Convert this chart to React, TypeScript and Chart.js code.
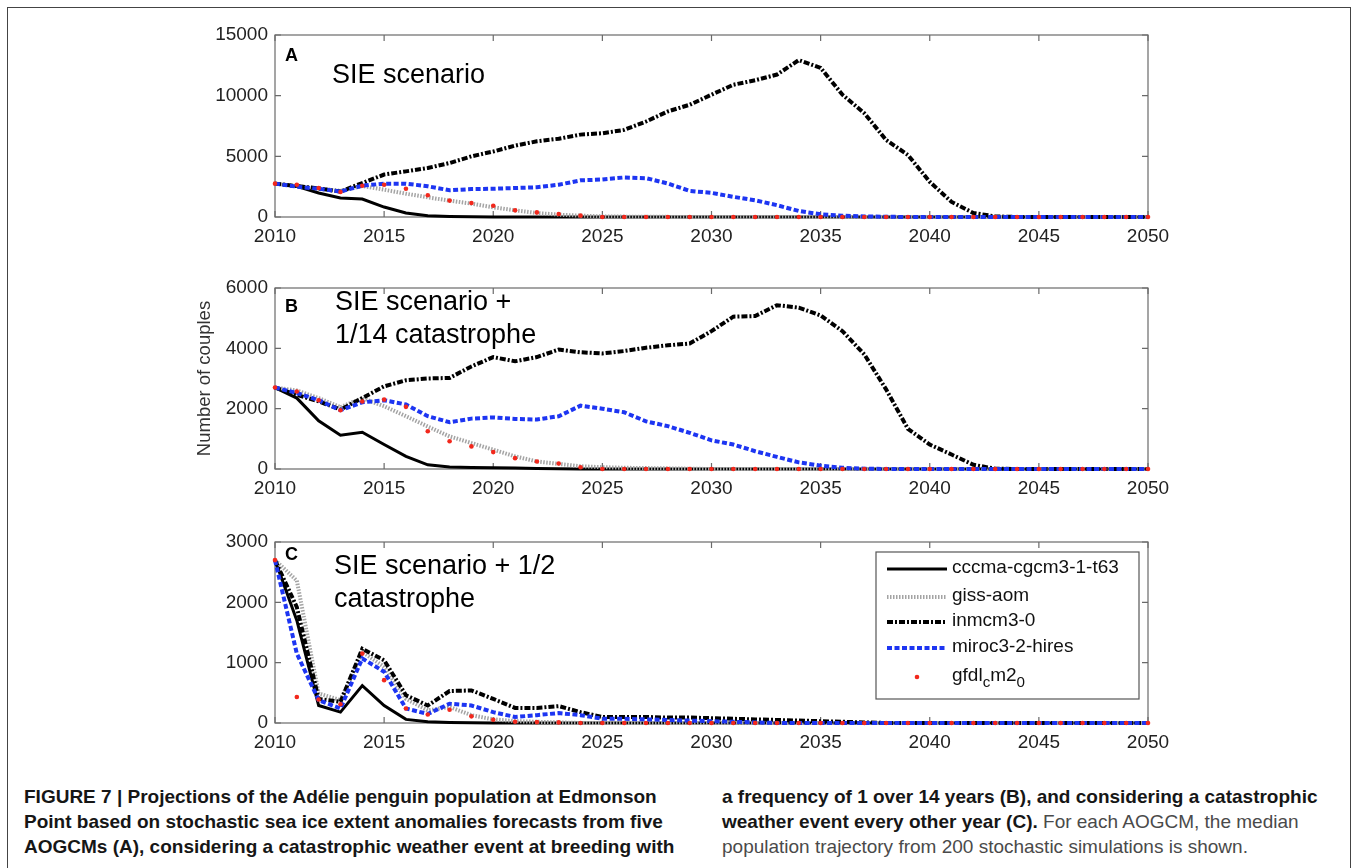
import React, { useEffect, useRef } from "react";
import { Chart, registerables } from "chart.js";

Chart.register(...registerables);

const FONT = "'Liberation Sans', Arial, Helvetica, sans-serif";

// ---------- data ----------
const years = [
  2010, 2011, 2012, 2013, 2014, 2015, 2016, 2017, 2018, 2019,
  2020, 2021, 2022, 2023, 2024, 2025, 2026, 2027, 2028, 2029,
  2030, 2031, 2032, 2033, 2034, 2035, 2036, 2037, 2038, 2039,
  2040, 2041, 2042, 2043, 2044, 2045, 2046, 2047, 2048, 2049, 2050,
];

const seriesNames = ["cccma-cgcm3-1-t63", "giss-aom", "inmcm3-0", "miroc3-2-hires", "gfdl_cm2_0"];

// Panel A: SIE scenario
const aCccma = [2750, 2530, 1980, 1570, 1480, 820, 330, 110, 50, 20, 10, 5, 0, 0, 0, 0, 0, 0, 0, 0, 0, 0, 0, 0, 0, 0, 0, 0, 0, 0, 0, 0, 0, 0, 0, 0, 0, 0, 0, 0, 0];
const aGiss = [2750, 2550, 2350, 2150, 2550, 2250, 1920, 1620, 1350, 1100, 800, 550, 330, 190, 110, 50, 30, 20, 10, 10, 0, 0, 0, 0, 0, 0, 0, 0, 0, 0, 0, 0, 0, 0, 0, 0, 0, 0, 0, 0, 0];
const aInmcm = [2750, 2550, 2350, 2100, 2800, 3500, 3760, 4040, 4450, 5000, 5400, 5880, 6240, 6450, 6790, 6900, 7180, 7870, 8700, 9250, 10080, 10900, 11270, 11740, 12930, 12290, 10080, 8560, 6350, 5110, 2900, 1240, 330, 50, 0, 0, 0, 0, 0, 0, 0];
const aMiroc = [2750, 2500, 2330, 2100, 2580, 2750, 2750, 2530, 2200, 2300, 2330, 2390, 2450, 2660, 3020, 3090, 3260, 3200, 2760, 2150, 1990, 1660, 1380, 970, 500, 220, 110, 50, 20, 0, 0, 0, 0, 0, 0, 0, 0, 0, 0, 0, 0];
const aGfdl = [2750, 2660, 2390, 2060, 2580, 2660, 2330, 1790, 1350, 1150, 930, 550, 380, 250, 110, 0, 0, 0, 0, 0, 0, 0, 0, 0, 0, 0, 0, 0, 0, 0, 0, 0, 0, 0, 0, 0, 0, 0, 0, 0, 0];

// Panel B: SIE scenario + 1/14 catastrophe
const bCccma = [2700, 2350, 1600, 1120, 1220, 810, 420, 140, 70, 50, 40, 30, 20, 10, 0, 0, 0, 0, 0, 0, 0, 0, 0, 0, 0, 0, 0, 0, 0, 0, 0, 0, 0, 0, 0, 0, 0, 0, 0, 0, 0];
const bGiss = [2700, 2600, 2350, 2050, 2350, 2080, 1750, 1410, 1080, 860, 640, 420, 250, 170, 90, 60, 40, 30, 20, 10, 0, 0, 0, 0, 0, 0, 0, 0, 0, 0, 0, 0, 0, 0, 0, 0, 0, 0, 0, 0, 0];
const bInmcm = [2700, 2460, 2240, 1970, 2350, 2740, 2940, 3000, 3020, 3400, 3710, 3570, 3710, 3960, 3870, 3830, 3910, 4020, 4100, 4160, 4570, 5050, 5070, 5430, 5350, 5090, 4570, 3800, 2640, 1330, 810, 480, 140, 10, 0, 0, 0, 0, 0, 0, 0];
const bMiroc = [2700, 2520, 2280, 1950, 2210, 2280, 2140, 1750, 1550, 1670, 1710, 1660, 1640, 1750, 2100, 2000, 1880, 1580, 1420, 1200, 950, 810, 590, 400, 220, 110, 40, 10, 0, 0, 0, 0, 0, 0, 0, 0, 0, 0, 0, 0, 0];
const bGfdl = [2700, 2570, 2280, 1950, 2240, 2300, 2060, 1250, 920, 750, 560, 360, 250, 180, 60, 0, 0, 0, 0, 0, 0, 0, 0, 0, 0, 0, 0, 0, 0, 0, 0, 0, 0, 0, 0, 0, 0, 0, 0, 0, 0];

// Panel C: SIE scenario + 1/2 catastrophe
const cCccma = [2700, 1700, 290, 180, 620, 290, 60, 20, 10, 5, 0, 0, 0, 0, 0, 0, 0, 0, 0, 0, 0, 0, 0, 0, 0, 0, 0, 0, 0, 0, 0, 0, 0, 0, 0, 0, 0, 0, 0, 0, 0];
const cGiss = [2700, 2360, 490, 380, 1180, 930, 400, 210, 265, 130, 60, 30, 20, 10, 0, 0, 0, 0, 0, 0, 0, 0, 0, 0, 0, 0, 0, 0, 0, 0, 0, 0, 0, 0, 0, 0, 0, 0, 0, 0, 0];
const cInmcm = [2700, 1920, 400, 350, 1230, 1040, 460, 290, 530, 540, 400, 250, 250, 280, 180, 100, 100, 100, 90, 90, 80, 70, 60, 50, 40, 30, 20, 10, 0, 0, 0, 0, 0, 0, 0, 0, 0, 0, 0, 0, 0];
const cMiroc = [2700, 1150, 380, 240, 1070, 850, 240, 150, 320, 290, 180, 100, 130, 165, 130, 70, 70, 60, 50, 40, 30, 20, 10, 0, 0, 0, 0, 0, 0, 0, 0, 0, 0, 0, 0, 0, 0, 0, 0, 0, 0];
const cGfdl = [2700, 430, 390, 310, 1150, 710, 240, 140, 220, 110, 55, 20, 15, 10, 0, 0, 0, 0, 0, 0, 0, 0, 0, 0, 0, 0, 0, 0, 0, 0, 0, 0, 0, 0, 0, 0, 0, 0, 0, 0, 0];

const xTicks = { min: 2010, max: 2050, step: 5 };

// ---------- styles ----------
const LINE_STYLES = [
  { color: "#000000", width: 3, dash: [] as number[], order: 4 },
  { color: "#a4a4a4", width: 4, dash: [1.5, 1.5], order: 3 },
  { color: "#000000", width: 4, dash: [6, 2, 2, 2], order: 2 },
  { color: "#1d35f2", width: 4, dash: [5, 2.5], order: 1 },
];
const DOT_COLOR = "#f2281c";

function makeDatasets(series: number[][]) {
  return series.map((vals, i) => {
    const pts = years.map((yr, k) => ({ x: yr, y: vals[k] }));
    if (i < 4) {
      const s = LINE_STYLES[i];
      return {
        label: seriesNames[i],
        data: pts,
        borderColor: s.color,
        backgroundColor: s.color,
        borderWidth: s.width,
        borderDash: s.dash,
        borderCapStyle: "butt",
        pointRadius: 0,
        tension: 0,
        order: s.order,
        clip: 8,
      };
    }
    return {
      label: seriesNames[i],
      data: pts,
      showLine: false,
      pointRadius: 2.3,
      pointBorderWidth: 0,
      pointBackgroundColor: DOT_COLOR,
      borderColor: DOT_COLOR,
      order: 0,
      clip: 8,
    };
  });
}

// ---------- plugins ----------
const boxPlugin = {
  id: "mbox",
  beforeDatasetsDraw(chart: any) {
    const { ctx, chartArea, scales } = chart;
    const { left, right, top, bottom } = chartArea;
    ctx.save();
    ctx.strokeStyle = "#6a6a6a";
    ctx.lineWidth = 1.2;
    ctx.strokeRect(left, top, right - left, bottom - top);
    const L = 6;
    ctx.beginPath();
    scales.x.ticks.forEach((t: any) => {
      const px = scales.x.getPixelForValue(t.value);
      ctx.moveTo(px, bottom);
      ctx.lineTo(px, bottom - L);
      ctx.moveTo(px, top);
      ctx.lineTo(px, top + L);
    });
    scales.y.ticks.forEach((t: any) => {
      const py = scales.y.getPixelForValue(t.value);
      ctx.moveTo(left, py);
      ctx.lineTo(left + L, py);
      ctx.moveTo(right, py);
      ctx.lineTo(right - L, py);
    });
    ctx.stroke();
    ctx.restore();
  },
};

function drawSubLabel(ctx: CanvasRenderingContext2D, text: string, x: number, y: number, size: number) {
  // "_" marks a one-character subscript
  let cx = x;
  let i = 0;
  while (i < text.length) {
    if (text[i] === "_" && i + 1 < text.length) {
      ctx.font = `${size * 0.8}px ${FONT}`;
      ctx.fillText(text[i + 1], cx, y + size * 0.38);
      cx += ctx.measureText(text[i + 1]).width;
      i += 2;
    } else {
      let j = i;
      while (j < text.length && text[j] !== "_") j++;
      const part = text.slice(i, j);
      ctx.font = `${size}px ${FONT}`;
      ctx.fillText(part, cx, y);
      cx += ctx.measureText(part).width;
      i = j;
    }
  }
}

const legendPlugin = {
  id: "mlegend",
  afterDatasetsDraw(chart: any, _args: any, opts: any) {
    if (!opts || !opts.show) return;
    const { ctx, chartArea } = chart;
    const bw = 263, bh = 147;
    const bx = chartArea.right - 9 - bw;
    const by = chartArea.top + 10;
    ctx.save();
    ctx.fillStyle = "#ffffff";
    ctx.fillRect(bx, by, bw, bh);
    ctx.strokeStyle = "#555555";
    ctx.lineWidth = 1.2;
    ctx.strokeRect(bx, by, bw, bh);
    const rows = [17, 45, 70, 96, 125];
    chart.data.datasets.forEach((ds: any, i: number) => {
      const yy = by + rows[i];
      if (ds.showLine === false) {
        ctx.fillStyle = ds.pointBackgroundColor;
        ctx.beginPath();
        ctx.arc(bx + 41, yy, 2.3, 0, Math.PI * 2);
        ctx.fill();
      } else {
        ctx.setLineDash(ds.borderDash || []);
        ctx.lineWidth = ds.borderWidth;
        ctx.strokeStyle = ds.borderColor;
        ctx.beginPath();
        ctx.moveTo(bx + 11, yy);
        ctx.lineTo(bx + 71, yy);
        ctx.stroke();
        ctx.setLineDash([]);
      }
      ctx.fillStyle = "#111111";
      ctx.textBaseline = "middle";
      ctx.textAlign = "left";
      drawSubLabel(ctx, ds.label, bx + 76, yy - 1, 19);
    });
    ctx.restore();
  },
};

const textPlugin = {
  id: "mtext",
  afterDraw(chart: any, _args: any, opts: any) {
    if (!opts) return;
    const { ctx, chartArea } = chart;
    const { left, top, bottom } = chartArea;
    ctx.save();
    ctx.fillStyle = "#000";
    ctx.textBaseline = "middle";
    ctx.textAlign = "left";
    ctx.font = `bold 18px ${FONT}`;
    ctx.fillText(opts.letter, left + 10, top + opts.letterDy);
    ctx.font = `27px ${FONT}`;
    opts.lines.forEach((ln: string, i: number) => {
      ctx.fillText(ln, left + opts.textDx, top + opts.textDy + i * 33);
    });
    if (opts.yTitle) {
      ctx.translate(left - 70, (top + bottom) / 2);
      ctx.rotate(-Math.PI / 2);
      ctx.textAlign = "center";
      ctx.fillStyle = "#333";
      ctx.font = `18.5px ${FONT}`;
      ctx.fillText(opts.yTitle, 0, 0);
    }
    ctx.restore();
  },
};

// ---------- panel ----------
type PanelProps = {
  top: number;
  height: number;
  yMax: number;
  yStep: number;
  series: number[][];
  text: any;
  legend?: boolean;
};

function Panel({ top, height, yMax, yStep, series, text, legend }: PanelProps) {
  const ref = useRef<HTMLCanvasElement>(null);
  useEffect(() => {
    const tickFont = { family: FONT, size: 19 };
    const chart = new Chart(ref.current as HTMLCanvasElement, {
      type: "line",
      data: { datasets: makeDatasets(series) as any },
      options: {
        animation: false,
        responsive: false,
        devicePixelRatio: 1,
        layout: { padding: { left: 10, right: 40, top: 20, bottom: 0 } },
        plugins: {
          legend: { display: false },
          tooltip: { enabled: false },
          mtext: text,
          mlegend: { show: !!legend },
        } as any,
        scales: {
          x: {
            type: "linear",
            min: xTicks.min,
            max: xTicks.max,
            grid: { display: false, drawTicks: false },
            border: { display: false },
            ticks: {
              stepSize: xTicks.step,
              color: "#222",
              font: tickFont,
              padding: 8,
              maxRotation: 0,
              callback: (v: any) => String(v),
            },
            afterFit: (s: any) => {
              s.height = 40;
            },
          },
          y: {
            min: 0,
            max: yMax,
            grid: { display: false, drawTicks: false },
            border: { display: false },
            ticks: {
              stepSize: yStep,
              color: "#222",
              font: tickFont,
              padding: 7,
              callback: (v: any) => String(v),
            },
            afterFit: (s: any) => {
              s.width = 85;
            },
          },
        },
      } as any,
      plugins: [boxPlugin, legendPlugin, textPlugin],
    });
    return () => chart.destroy();
  }, []);
  return (
    <canvas
      ref={ref}
      width={1008}
      height={height}
      style={{ position: "absolute", left: 180, top, width: 1008, height }}
    />
  );
}

const capBold: React.CSSProperties = { fontWeight: 700, color: "#161616" };
const capNorm: React.CSSProperties = { fontWeight: 400, color: "#4a4a4a" };

function CapLine({ x, y, children }: { x: number; y: number; children: React.ReactNode }) {
  return (
    <div
      style={{
        position: "absolute",
        left: x,
        top: y - 12,
        height: 24,
        lineHeight: "24px",
        fontFamily: FONT,
        fontSize: 19,
        whiteSpace: "nowrap",
      }}
    >
      {children}
    </div>
  );
}

export default function App() {
  return (
    <div style={{ position: "fixed", inset: 0, overflow: "hidden", background: "#fff" }}>
      <div
        style={{
          position: "absolute",
          left: 7,
          top: 7,
          width: 1344,
          height: 870,
          borderLeft: "1px solid #444",
          borderTop: "1px solid #444",
          borderRight: "1px solid #444",
          boxSizing: "border-box",
        }}
      />
      <Panel
        top={15}
        height={242}
        yMax={15000}
        yStep={5000}
        series={[aCccma, aGiss, aInmcm, aMiroc, aGfdl]}
        text={{ letter: "A", letterDy: 21, lines: ["SIE scenario"], textDx: 57, textDy: 41 }}
      />
      <Panel
        top={268}
        height={241}
        yMax={6000}
        yStep={2000}
        series={[bCccma, bGiss, bInmcm, bMiroc, bGfdl]}
        text={{
          letter: "B",
          letterDy: 19,
          lines: ["SIE scenario +", "1/14 catastrophe"],
          textDx: 60,
          textDy: 15,
          yTitle: "Number of couples",
        }}
      />
      <Panel
        top={522}
        height={241}
        yMax={3000}
        yStep={1000}
        series={[cCccma, cGiss, cInmcm, cMiroc, cGfdl]}
        text={{ letter: "C", letterDy: 13, lines: ["SIE scenario + 1/2", "catastrophe"], textDx: 59, textDy: 25 }}
        legend
      />
      <CapLine x={24} y={797}>
        <span style={capBold}>FIGURE 7 | Projections of the Adélie penguin population at Edmonson</span>
      </CapLine>
      <CapLine x={24} y={822}>
        <span style={capBold}>Point based on stochastic sea ice extent anomalies forecasts from five</span>
      </CapLine>
      <CapLine x={24} y={847}>
        <span style={capBold}>AOGCMs (A), considering a catastrophic weather event at breeding with</span>
      </CapLine>
      <CapLine x={722} y={797}>
        <span style={capBold}>a frequency of 1 over 14 years (B), and considering a catastrophic</span>
      </CapLine>
      <CapLine x={722} y={822}>
        <span style={capBold}>weather event every other year (C).</span>
        <span style={capNorm}> For each AOGCM, the median</span>
      </CapLine>
      <CapLine x={722} y={847}>
        <span style={capNorm}>population trajectory from 200 stochastic simulations is shown.</span>
      </CapLine>
    </div>
  );
}
